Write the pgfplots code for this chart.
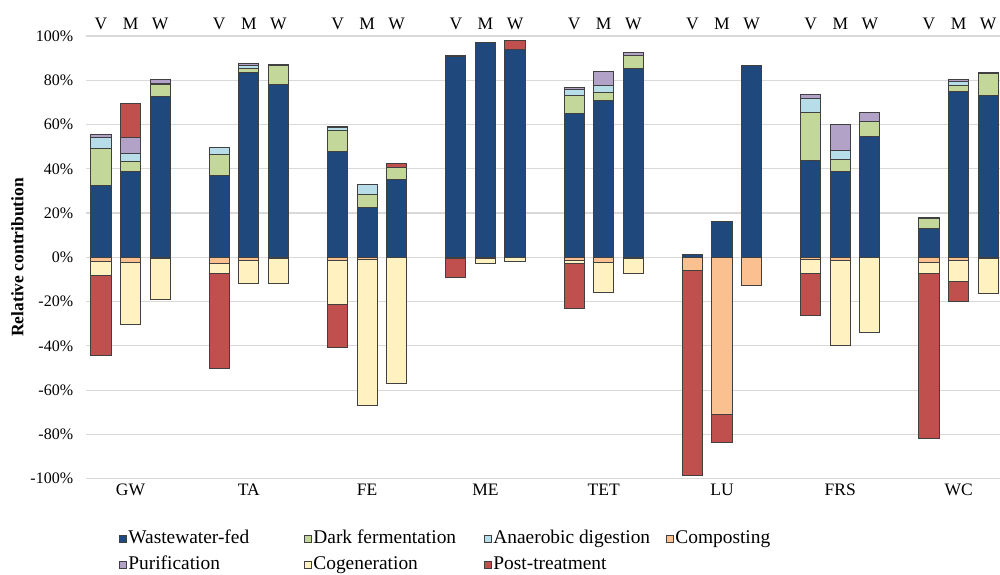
\documentclass[border=0pt]{standalone}
\usepackage{fontspec}
\setmainfont{Liberation Serif}
\usepackage{pgfplots}
\usepackage{pgfplotstable}
\pgfplotsset{compat=1.18}
\definecolor{cWW}{HTML}{1F497D}
\definecolor{cDF}{HTML}{C4D79B}
\definecolor{cAD}{HTML}{B7DEE8}
\definecolor{cCO}{HTML}{FAC090}
\definecolor{cPU}{HTML}{B3A2C7}
\definecolor{cCG}{HTML}{FFF2C0}
\definecolor{cPT}{HTML}{C0504D}
\definecolor{cgrid}{HTML}{D9D9D9}

% positive contributions (x = 4*group + bar; bars V, M, W)
\pgfplotstableread{
x  ww    df    ad   pu    pt
0  32.3  17.0  4.7  1.3   0
1  38.8  4.5   3.5  7.5   15.0
2  72.6  5.6   0.4  1.9   0
4  37.0  9.6   2.9  0.3   0
5  83.6  1.5   1.5  1.2   0
6  78.3  8.6   0    0.4   0
8  47.8  9.3   1.4  0.4   0
9  22.7  5.9   4.5  0     0
10 35.3  5.4   0    0     1.6
12 90.7  0.3   0    0     0
13 97.0  0     0    0     0
14 93.7  0     0    0     4.2
16 64.8  8.3   2.6  0.9   0
17 70.7  3.9   3.0  6.2   0
18 85.1  5.9   0    1.6   0
20 1.2   0     0    0     0
21 16.4  0     0    0     0
22 86.9  0     0    0     0
24 43.8  21.6  6.2  1.8   0
25 38.6  5.4   4.1  11.9  0
26 54.4  7.1   0    4.1   0
28 13.2  4.2   0.5  0     0
29 74.9  2.6   2.0  0.8   0
30 72.9  10.2  0    0.4   0
}\posdata

% negative contributions
\pgfplotstableread{
x  co     cg     pt
0  -1.8   -6.2   -36.4
1  -2.1   -28.3  0
2  -0.3   -18.8  0
4  -2.6   -4.9   -42.6
5  -1.2   -10.8  0
6  -0.3   -11.7  0
8  -1.2   -20.2  -19.5
9  -0.9   -66.0  0
10 0      -57.1  0
12 0      -0.5   -8.5
13 -0.3   -2.3   0
14 0      -1.8   0
16 -1.2   -1.4   -20.6
17 -2.3   -13.5  0
18 -0.3   -7.1   0
20 -5.9   0      -92.6
21 -71.1  0      -12.4
22 -12.8  0      0
24 -0.8   -6.3   -19.2
25 -1.2   -38.5  0
26 0      -34.1  0
28 -2.1   -5.0   -74.9
29 -1.2   -9.9   -8.7
30 -0.3   -16.1  0
}\negdata

\pgfplotsset{
  legsq/.style={legend image code/.code={\draw[##1] (0pt,-1.8pt) rectangle (3.6pt,1.8pt);}},
  common/.style={
    width=456.9pt, height=221.35pt, scale only axis,
    at={(43.1pt,47.65pt)}, anchor=south west,
    xmin=-0.5, xmax=30.40, ymin=-100, ymax=100,
    ybar stacked, bar width=0.68,
    axis line style={draw=none}, major tick length=0pt,
    every axis plot/.append style={draw=black!75, line width=0.5pt, legsq},
  },
}

\begin{document}
\begin{tikzpicture}
\useasboundingbox (0,0) rectangle (500pt,287pt);
\begin{axis}[common,
  ytick={-100,-80,...,100},
  yticklabels={-100\%,-80\%,-60\%,-40\%,-20\%,0\%,20\%,40\%,60\%,80\%,100\%},
  ymajorgrids, grid style={cgrid, line width=0.6pt},
  yticklabel style={font=\fontsize{8}{9.6}\selectfont, anchor=east, xshift=-3pt},
  xtick={1,5,...,29},
  xticklabels={GW,TA,FE,ME,TET,LU,FRS,WC},
  xticklabel style={font=\fontsize{8.75}{10}\selectfont, anchor=base, yshift=-8.15pt},
  ylabel={\bfseries Relative contribution},
  every axis y label/.style={at={(axis description cs:-0.0752,0.5)}, anchor=center, rotate=90, font=\fontsize{8.75}{10}\selectfont},
  legend columns=4,
  legend cell align=left,
  legend style={
    at={(axis description cs:0,0)}, anchor=north west, xshift=16.4pt, yshift=-26.0pt,
    draw=none, fill=none, inner sep=0pt, outer sep=0pt,
    font=\fontsize{9.7}{11}\selectfont,
    row sep=4.5pt, column sep=0pt,
    nodes={inner sep=0pt, text height=6.6pt, text depth=1.9pt},
    /tikz/every odd column/.append style={column sep=0.6pt},
  },
]
\addplot[fill=cWW] table[x=x,y=ww]{\posdata};
\addlegendentry{\makebox[87.8pt][l]{Wastewater-fed}}
\addplot[fill=cDF] table[x=x,y=df]{\posdata};
\addlegendentry{\makebox[85.3pt][l]{Dark fermentation}}
\addplot[fill=cAD] table[x=x,y=ad]{\posdata};
\addlegendentry{\makebox[86.3pt][l]{Anaerobic digestion}}
\addlegendimage{legsq, fill=cCO, draw=black!75, line width=0.5pt}
\addlegendentry{Composting}
\addplot[fill=cPU] table[x=x,y=pu]{\posdata};
\addlegendentry{Purification}
\addlegendimage{legsq, fill=cCG, draw=black!75, line width=0.5pt}
\addlegendentry{Cogeneration}
\addplot[fill=cPT] table[x=x,y=pt]{\posdata};
\addlegendentry{Post-treatment}
\end{axis}
\begin{axis}[common,
  ytick=\empty,
  xtick={0,1,2,4,5,6,8,9,10,12,13,14,16,17,18,20,21,22,24,25,26,28,29,30},
  xticklabels={V,M,W,V,M,W,V,M,W,V,M,W,V,M,W,V,M,W,V,M,W,V,M,W},
  xticklabel pos=upper,
  xticklabel style={font=\fontsize{8.75}{10}\selectfont, anchor=base, yshift=3.35pt},
]
\addplot[fill=cCO] table[x=x,y=co]{\negdata};
\addplot[fill=cCG] table[x=x,y=cg]{\negdata};
\addplot[fill=cPT] table[x=x,y=pt]{\negdata};
\end{axis}
\end{tikzpicture}
\end{document}
